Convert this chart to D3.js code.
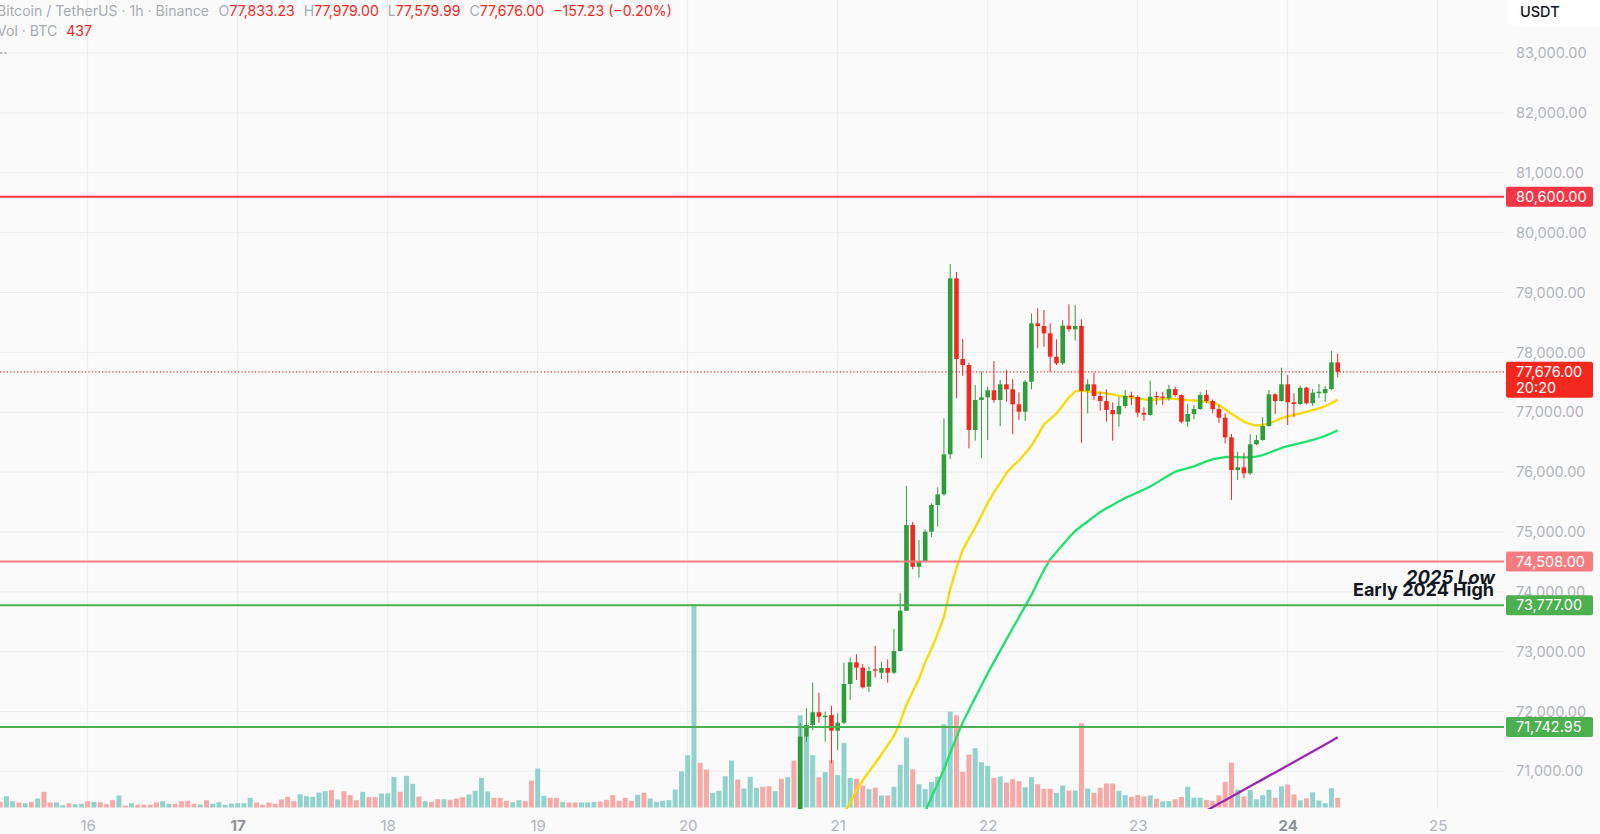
<!DOCTYPE html>
<html>
<head>
<meta charset="utf-8">
<title>BTCUSDT 1h</title>
<script src="https://d3js.org/d3.v7.min.js"></script>
<style>
    body { margin: 0; background: #fafafa; overflow: hidden; }
    svg { display: block; font-family: Inter, "Noto Sans", Arial, sans-serif; }
</style>
</head>
<body>

<div id="chart"></div>

<script>
    const HOUR = 3600 * 1000;

    // Candles, one per hour from 20 Apr 18:00 (earlier ones sit below the visible range)
    const candleStart = Date.UTC(2026, 3, 20, 18);
    const opens = [70250, 71579, 71775, 71987, 71905, 71942, 71679, 71813, 72460, 72822,
        72732, 72415, 72705, 72648, 72727, 72648, 73011, 73684, 75116, 74419,
        74503, 75004, 75450, 75629, 76297, 79238, 77890, 77789, 76703, 77205,
        77250, 77367, 77205, 77467, 77383, 77133, 77009, 77510, 78486, 78441,
        78319, 77928, 77818, 78446, 78386, 78441, 77360, 77467, 77272, 77188,
        77038, 76966, 77104, 77280, 77255, 76990, 76955, 77270, 77260, 77233,
        77388, 77288, 76842, 76971, 77054, 77288, 77188, 77054, 76909, 76581,
        76035, 76080, 75980, 76465, 76536, 76770, 77300, 77188, 77467, 77166,
        77138, 77410, 77150, 77317, 77320, 77388, 77833.23];
    const highs = [71808, 72054, 72481, 72314, 71997, 72097, 71970, 72816, 72899, 72956,
        72794, 72749, 73095, 72832, 72872, 73379, 73975, 75768, 75171, 74866,
        75044, 75479, 75746, 76899, 79477, 79343, 78224, 77828, 77455, 77678,
        77427, 77856, 77539, 77706, 77551, 77333, 77539, 78653, 78737, 78708,
        78486, 78219, 78541, 78804, 78792, 78553, 77551, 77661, 77343, 77383,
        77166, 77250, 77372, 77343, 77283, 77083, 77527, 77343, 77343, 77455,
        77427, 77300, 77138, 77121, 77343, 77372, 77216, 77121, 76982, 76637,
        76341, 76324, 76632, 76620, 76916, 77372, 77317, 77744, 77622, 77317,
        77444, 77427, 77388, 77472, 77439, 78028, 77979];
    const lows = [70180, 71496, 71691, 71813, 71496, 71135, 71357, 71791, 72192, 72527,
        72381, 72326, 72572, 72543, 72481, 72630, 73000, 73679, 74376, 74236,
        74490, 74911, 75088, 75606, 76219, 77233, 77611, 76398, 76525, 76231,
        76536, 77160, 76770, 77176, 76632, 76871, 76854, 77383, 78069, 78095,
        77678, 77789, 77789, 78346, 78195, 76491, 76982, 77205, 77026, 76842,
        76525, 76759, 77066, 77121, 76916, 76859, 76942, 77121, 77121, 77193,
        77260, 76815, 76759, 76882, 77038, 77150, 76982, 76825, 76481, 75534,
        75868, 75896, 75952, 76453, 76525, 76759, 76971, 77176, 76787, 76916,
        77121, 77133, 77104, 77233, 77176, 77372, 77579.99];
    const closes = [71579, 71775, 71987, 71913, 71930, 71679, 71813, 72460, 72822, 72732,
        72404, 72677, 72682, 72727, 72648, 73011, 73684, 75116, 74419, 74503,
        75004, 75450, 75629, 76297, 79238, 77890, 77789, 76703, 77205, 77250,
        77367, 77205, 77467, 77383, 77133, 77009, 77510, 78486, 78441, 78319,
        77928, 77818, 78446, 78386, 78441, 77360, 77467, 77272, 77188, 77038,
        76966, 77104, 77272, 77255, 76993, 76959, 77260, 77250, 77238, 77388,
        77288, 76842, 76971, 77054, 77288, 77188, 77054, 76909, 76581, 76035,
        76080, 75980, 76465, 76536, 76770, 77300, 77188, 77467, 77166, 77138,
        77410, 77150, 77327, 77343, 77388, 77833.23, 77676];

    // Volume (BTC), one bar per hour from 15 Apr 10:00; 1 = up bar, 0 = down bar
    const volStart = Date.UTC(2026, 3, 15, 10);
    const volumes = [256, 509, 284, 225, 194, 256, 405, 707, 225, 225, 104, 194, 149, 167,
        284, 256, 239, 149, 329, 540, 90, 194, 135, 122,
        122, 225, 284, 167, 167, 284, 302, 167, 135, 329,
        167, 239, 122, 180, 194, 194, 437, 225, 122, 225,
        167, 360, 482, 284, 599, 509, 482, 675, 734, 779,
        360, 734, 554, 329, 707, 464, 464, 630, 630, 1382,
        707, 1427, 1067, 495, 284, 256, 374, 374, 347, 405,
        464, 585, 752, 1337, 720, 437, 437, 302, 239, 329,
        284, 1215, 1755, 527, 437, 437, 239, 225, 225, 225,
        225, 256, 270, 347, 554, 302, 437, 302, 572, 662,
        405, 256, 302, 329, 810, 1634, 2354, 9149, 2012, 1710,
        662, 752, 1409, 2115, 1260, 855, 1382, 887, 932, 959,
        734, 1292, 1364, 2115, 4154, 3182, 2354, 1364, 1589, 2129,
        1454, 2912, 1337, 1292, 990, 824, 887, 540, 540, 932,
        1922, 3150, 1719, 1049, 824, 1148, 1382, 3749, 4320, 4154,
        1607, 2385, 2669, 2039, 1877, 1337, 1395, 1125, 1274, 1184,
        914, 1364, 1049, 842, 842, 662, 990, 765, 765, 3794,
        855, 662, 887, 1080, 1080, 752, 554, 482, 554, 495,
        549, 396, 270, 293, 369, 473, 936, 441, 441, 342,
        293, 549, 1148, 2016, 801, 504, 788, 369, 549, 801,
        441, 954, 1035, 585, 324, 414, 684, 315, 194, 869,
        437];
    const volUp = [0, 1, 1, 0, 1, 0, 1, 0, 0, 1, 1, 0, 1, 1,
        0, 1, 0, 0, 0, 1, 0, 1, 0, 0,
        0, 0, 1, 1, 0, 0, 0, 0, 1, 0,
        1, 1, 1, 1, 1, 1, 1, 0, 0, 0,
        0, 0, 0, 0, 1, 1, 1, 1, 1, 0,
        1, 0, 0, 0, 1, 0, 0, 1, 1, 1,
        0, 1, 1, 0, 1, 0, 0, 1, 0, 0,
        0, 1, 1, 1, 1, 0, 0, 0, 1, 1,
        0, 0, 1, 1, 0, 0, 1, 0, 0, 1,
        1, 1, 0, 0, 0, 0, 0, 0, 1, 0,
        1, 1, 1, 1, 1, 1, 1, 1, 0, 0,
        1, 1, 1, 1, 0, 1, 1, 1, 0, 0,
        1, 0, 1, 0, 1, 1, 1, 0, 1, 0,
        1, 1, 1, 0, 0, 1, 0, 1, 0, 1,
        1, 1, 0, 1, 1, 1, 1, 1, 1, 0,
        0, 0, 1, 1, 1, 0, 1, 0, 0, 0,
        1, 1, 0, 0, 0, 1, 1, 0, 1, 0,
        1, 0, 0, 0, 0, 1, 1, 0, 0, 0,
        1, 0, 1, 1, 0, 0, 1, 1, 1, 0,
        0, 0, 0, 0, 1, 0, 1, 1, 1, 1,
        0, 1, 0, 0, 1, 0, 1, 1, 1, 1,
        0];

    // Moving averages (only the part above the pane bottom)
    const maFastStart = Date.UTC(2026, 3, 21, 1);
    const maFast = [70304, 70471, 70689, 70847, 70996, 71136, 71282, 71437, 71591, 71821,
        72114, 72331, 72546, 72821, 73048, 73302, 73577, 74042, 74398, 74700,
        74889, 75074, 75277, 75487, 75664, 75816, 75985, 76102, 76194, 76311,
        76441, 76615, 76797, 76887, 76979, 77113, 77250, 77347, 77360, 77350,
        77338, 77328, 77317, 77297, 77275, 77260, 77245, 77230, 77215, 77205,
        77213, 77223, 77231, 77225, 77213, 77203, 77196, 77188, 77173, 77158,
        77123, 77049, 76976, 76909, 76844, 76802, 76777, 76787, 76812, 76854,
        76902, 76932, 76957, 76982, 77008, 77036, 77064, 77099, 77155, 77211];
    const maSlowStart = Date.UTC(2026, 3, 21, 14);
    const maSlow = [70328, 70562, 70796, 71034, 71305, 71572, 71815, 72024, 72232, 72435,
        72637, 72829, 73018, 73205, 73392, 73574, 73760, 73948, 74160, 74366,
        74541, 74663, 74785, 74906, 75016, 75099, 75175, 75257, 75335, 75394,
        75452, 75511, 75569, 75614, 75661, 75708, 75758, 75820, 75883, 75947,
        76008, 76037, 76065, 76095, 76137, 76179, 76211, 76232, 76252, 76254,
        76251, 76247, 76247, 76259, 76284, 76323, 76363, 76403, 76433, 76458,
        76483, 76508, 76540, 76570, 76605, 76650, 76698];
    const maLongStart = Date.UTC(2026, 3, 23, 11);
    const maLong = [70345, 70402, 70461, 70518, 70575, 70636, 70692, 70752, 70808, 70866,
        70925, 70982, 71040, 71098, 71157, 71215, 71272, 71330, 71389, 71447,
        71508, 71569];

    // Horizontal levels and axis ticks
    const levelPrices = [80600, 74508, 73777, 71742.95];
    const priceTicks = [71000, 72000, 73000, 74000, 75000, 76000, 77000, 78000, 79000, 80000, 81000, 82000, 83000];
    const dayTicks = [16, 17, 18, 19, 20, 21, 22, 23, 24, 25];
    const boldDays = [17, 24];
    const notes = ["2025 Low", "Early 2024 High"];
    const symbolTitle = "Bitcoin / TetherUS · 1h · Binance";
    const countdown = "20:20";

    // Styles
    const levelColors = ["#f23645", "#f77c80", "#4caf50", "#4caf50"];
    const upColor = "#2f9e3a", downColor = "#f2281e";
    const volUpColor = "#92d2cc", volDownColor = "#f7a9a7";
    const axisGray = "#b2b5be";
    const legendGray = "#a9acb4";

    const width = 1600, height = 834;
    const paneW = 1504, paneH = 809;

    const svg = d3.select("#chart")
        .append("svg")
        .attr("width", width)
        .attr("height", height);

    svg.append("rect").attr("width", width).attr("height", height).attr("fill", "#fafafa");

    // Scales
    const x = d3.scaleUtc()
        .domain([Date.UTC(2026, 3, 16), Date.UTC(2026, 3, 25)])
        .range([87.7, 1437.7]);
    const y = d3.scaleLinear()
        .domain([70000, 84000])
        .range([831.2, -6.7]);
    const yVol = d3.scaleLinear()
        .domain([0, 10000])
        .range([807.5, 585.5]);

    svg.append("clipPath").attr("id", "pane")
        .append("rect").attr("width", paneW).attr("height", paneH);
    const pane = svg.append("g").attr("clip-path", "url(#pane)");

    // Grid
    const dayDates = dayTicks.map(d => new Date(Date.UTC(2026, 3, d)));
    pane.append("g").selectAll("line").data(priceTicks).join("line")
        .attr("x1", 0).attr("x2", paneW)
        .attr("y1", d => y(d)).attr("y2", d => y(d))
        .attr("stroke", "#ececec").attr("stroke-width", 1);
    pane.append("g").selectAll("line").data(dayDates).join("line")
        .attr("x1", d => x(d)).attr("x2", d => x(d))
        .attr("y1", 0).attr("y2", 808)
        .attr("stroke", "#ececec").attr("stroke-width", 1);

    // Volume bars
    const vols = volumes.map((v, i) => ({ t: volStart + i * HOUR, v, up: volUp[i] }));
    pane.append("g").selectAll("rect").data(vols).join("rect")
        .attr("x", d => x(d.t) - 2.5)
        .attr("width", 5)
        .attr("y", d => yVol(d.v))
        .attr("height", d => yVol(0) - yVol(d.v))
        .attr("fill", d => d.up ? volUpColor : volDownColor);

    // Current price line
    const lastClose = closes[closes.length - 1];
    pane.append("line")
        .attr("x1", 0).attr("x2", paneW)
        .attr("y1", y(lastClose)).attr("y2", y(lastClose))
        .attr("stroke", downColor).attr("stroke-width", 1.2)
        .attr("stroke-dasharray", "1.2,2.2");

    // Moving averages
    const maLine = (start) => d3.line()
        .x((d, i) => x(start + i * HOUR))
        .y(d => y(d));
    [[maLong, maLongStart, "#9c27b0"], [maSlow, maSlowStart, "#1ee26e"], [maFast, maFastStart, "#fbd900"]]
        .forEach(([vals, start, color]) => {
            pane.append("path")
                .attr("d", maLine(start)(vals))
                .attr("fill", "none")
                .attr("stroke", color)
                .attr("stroke-width", 2.3)
                .attr("stroke-linejoin", "round");
        });

    // Candles
    const candles = opens.map((o, i) => ({
        t: candleStart + i * HOUR, o, h: highs[i], l: lows[i], c: closes[i]
    }));
    const candleColor = d => d.c >= d.o ? upColor : downColor;
    pane.append("g").selectAll("line").data(candles).join("line")
        .attr("x1", d => x(d.t)).attr("x2", d => x(d.t))
        .attr("y1", d => y(d.h)).attr("y2", d => y(d.l))
        .attr("stroke", candleColor).attr("stroke-width", 1);
    pane.append("g").selectAll("rect").data(candles).join("rect")
        .attr("x", d => x(d.t) - 2.3)
        .attr("width", 4.6)
        .attr("y", d => y(Math.max(d.o, d.c)))
        .attr("height", d => Math.max(1, Math.abs(y(d.o) - y(d.c))))
        .attr("fill", candleColor);

    // Horizontal levels
    pane.append("g").selectAll("line").data(levelPrices).join("line")
        .attr("x1", 0).attr("x2", paneW)
        .attr("y1", d => y(d)).attr("y2", d => y(d))
        .attr("stroke", (d, i) => levelColors[i])
        .attr("stroke-width", 2);

    // Level notes
    const yNote = y(levelPrices[2]);
    svg.append("text")
        .attr("x", 1495).attr("y", yNote - 21)
        .attr("text-anchor", "end")
        .style("font-size", "18.5px").style("font-weight", "700").style("font-style", "italic")
        .attr("fill", "#131722")
        .text(notes[0]);
    svg.append("text")
        .attr("x", 1494).attr("y", yNote - 9)
        .attr("text-anchor", "end")
        .style("font-size", "18px").style("font-weight", "700")
        .attr("fill", "#131722")
        .text(notes[1]);

    // Time axis
    const xAxis = d3.axisBottom(x)
        .tickValues(dayDates)
        .tickFormat(d3.utcFormat("%-d"))
        .tickSize(0)
        .tickPadding(8);
    const gx = svg.append("g")
        .attr("transform", "translate(0,812)")
        .call(xAxis);
    gx.select(".domain").remove();
    gx.selectAll("text")
        .style("font-size", "15px")
        .style("font-family", "Inter, 'Noto Sans', sans-serif")
        .attr("fill", d => boldDays.includes(d.getUTCDate()) ? "#8f929b" : axisGray)
        .style("font-weight", d => boldDays.includes(d.getUTCDate()) ? "700" : "400");

    // Price axis
    const fmt = d3.format(",.2f");
    const yAxis = d3.axisRight(y)
        .tickValues(priceTicks)
        .tickFormat(fmt)
        .tickSize(0)
        .tickPadding(4);
    const gy = svg.append("g")
        .attr("transform", "translate(1512,0)")
        .call(yAxis);
    gy.select(".domain").remove();
    gy.selectAll("text")
        .style("font-size", "14.5px")
        .style("font-family", "Inter, 'Noto Sans', sans-serif")
        .attr("fill", axisGray);

    // Level price labels
    const lbl = svg.append("g");
    levelPrices.forEach((p, i) => {
        lbl.append("rect")
            .attr("x", 1506).attr("y", y(p) - 10)
            .attr("width", 87).attr("height", 20).attr("rx", 2)
            .attr("fill", levelColors[i]);
        lbl.append("text")
            .attr("x", 1516).attr("y", y(p)).attr("dy", "0.36em")
            .style("font-size", "14.5px")
            .attr("fill", "#ffffff")
            .text(fmt(p));
    });

    // Last price label with countdown
    lbl.append("rect")
        .attr("x", 1506).attr("y", y(lastClose) - 10)
        .attr("width", 87).attr("height", 36).attr("rx", 2)
        .attr("fill", downColor);
    lbl.append("text")
        .attr("x", 1516).attr("y", y(lastClose)).attr("dy", "0.36em")
        .style("font-size", "14.5px").attr("fill", "#ffffff")
        .text(fmt(lastClose));
    lbl.append("text")
        .attr("x", 1516).attr("y", y(lastClose) + 16).attr("dy", "0.36em")
        .style("font-size", "14.5px").attr("fill", "#ffffff")
        .text(countdown);

    // Currency box
    svg.append("rect")
        .attr("x", 1509).attr("y", -8)
        .attr("width", 110).attr("height", 34.7).attr("rx", 7)
        .attr("fill", "#ffffff");
    svg.append("text")
        .attr("x", 1520).attr("y", 17)
        .style("font-size", "14.5px").style("font-weight", "500")
        .attr("fill", "#131722")
        .text("USDT");

    // Legend (header)
    const n = closes.length - 1;
    const change = closes[n] - closes[n - 1];
    const legendParts = [
        [symbolTitle, legendGray, 9.5],
        ["O", legendGray, 0], [fmt(opens[n]), downColor, 9],
        ["H", legendGray, 0], [fmt(highs[n]), downColor, 9],
        ["L", legendGray, 0], [fmt(lows[n]), downColor, 9],
        ["C", legendGray, 0], [fmt(closes[n]), downColor, 9],
        [fmt(change) + " (" + d3.format(".2%")(change / closes[n - 1]) + ")", downColor, 0]
    ];
    let cx = -3;
    legendParts.forEach(([txt, color, gap]) => {
        const t = svg.append("text")
            .attr("x", cx).attr("y", 16)
            .style("font-size", "14.1px")
            .attr("fill", color)
            .text(txt);
        cx += t.node().getComputedTextLength() + gap;
    });
    const volLabel = svg.append("text")
        .attr("x", -3).attr("y", 36)
        .style("font-size", "14.1px").attr("fill", legendGray)
        .text("Vol · BTC");
    svg.append("text")
        .attr("x", -3 + volLabel.node().getComputedTextLength() + 9).attr("y", 36)
        .style("font-size", "14.1px").attr("fill", downColor)
        .text(d3.format(",")(volumes[volumes.length - 1]));
    svg.append("text")
        .attr("x", -1).attr("y", 54)
        .style("font-size", "15px").attr("fill", legendGray)
        .text("..");
</script>
</body>
</html>
